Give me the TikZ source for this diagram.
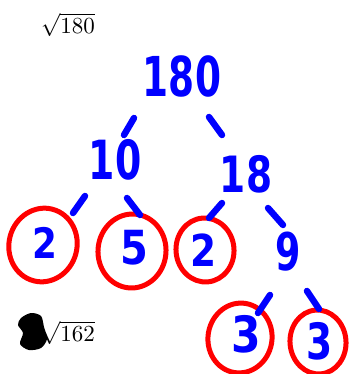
\documentclass[tikz,border=0pt]{standalone}
\usepackage{fontspec}
\setmainfont{Liberation Serif}
\newfontfamily\hand{DejaVu Sans}
\definecolor{inkblue}{RGB}{0,0,255}
\definecolor{inkred}{RGB}{255,0,0}
\tikzset{
  num/.style={text=inkblue, inner sep=0pt,
    font=\hand\bfseries\fontsize{#1}{#1}\selectfont},
  stroke/.style={draw=inkblue, line width=6.5pt, line cap=round},
  ring/.style={draw=inkred, line width=5pt},
  radical/.style={inner sep=0pt}
}
\begin{document}
\begin{tikzpicture}[x=1pt,y=-1pt]
\useasboundingbox (0,0) rectangle (349,374);
\fill[white] (0,0) rectangle (349,374);

% square-root headings
\node[radical] (r180) at (68,25) {\scalebox{2.3}{$\sqrt{180}$}};
\node[radical] (r162) at (68,333) {\scalebox{2.3}{$\sqrt{162}$}};
\fill[black] plot[smooth cycle] coordinates
  {(21,318) (31,313) (41,316) (44,327) (47,339) (41,348) (29,350) (20,344) (23,333) (18,325)};

% factor tree numbers
\node[num=55] (n180) at (182,76) {\scalebox{0.68}[1]{180}};
\node[num=54] (n10)  at (115,160) {\scalebox{0.7}[1]{10}};
\node[num=50] (n18)  at (246,174) {\scalebox{0.75}[1]{18}};
\node[num=42] (a2)   at (45,243) {\scalebox{0.85}[1]{2}};
\node[num=47] (a5)   at (134,248) {\scalebox{0.85}[1]{5}};
\node[num=44] (b2)   at (204,250) {\scalebox{0.85}[1]{2}};
\node[num=52] (n9)   at (288,252) {\scalebox{0.7}[1]{9}};
\node[num=50] (c3)   at (246,334) {\scalebox{0.85}[1]{3}};
\node[num=50] (d3)   at (320,341) {\scalebox{0.75}[1]{3}};

% circled primes
\draw[ring,rotate around={-15:(43,245)}] (43,245) ellipse [x radius=34, y radius=37];
\draw[ring,rotate around={-5:(132,251)}] (132,251) ellipse [x radius=34, y radius=37];
\draw[ring,rotate around={5:(205,250)}] (205,250) ellipse [x radius=29, y radius=32];
\draw[ring,rotate around={-10:(240,338)}] (240,338) ellipse [x radius=32, y radius=35];
\draw[ring,rotate around={5:(318,342)}] (318,342) ellipse [x radius=28, y radius=32];

% branch strokes between numbers
\coordinate (s1a) at (134,118); \coordinate (s1b) at (124,135);
\coordinate (s2a) at (209,117); \coordinate (s2b) at (222,135);
\coordinate (s3a) at (85,196);  \coordinate (s3b) at (73,213);
\coordinate (s4a) at (127,198); \coordinate (s4b) at (140,215);
\coordinate (s5a) at (222,203); \coordinate (s5b) at (209,218);
\coordinate (s6a) at (268,208); \coordinate (s6b) at (283,225);
\coordinate (s7a) at (270,295); \coordinate (s7b) at (258,313);
\coordinate (s8a) at (307,291); \coordinate (s8b) at (319,309);
\draw[stroke] (s1a) -- (s1b);
\draw[stroke] (s2a) -- (s2b);
\draw[stroke] (s3a) -- (s3b);
\draw[stroke] (s4a) -- (s4b);
\draw[stroke] (s5a) -- (s5b);
\draw[stroke] (s6a) -- (s6b);
\draw[stroke] (s7a) -- (s7b);
\draw[stroke] (s8a) -- (s8b);
\end{tikzpicture}
\end{document}
